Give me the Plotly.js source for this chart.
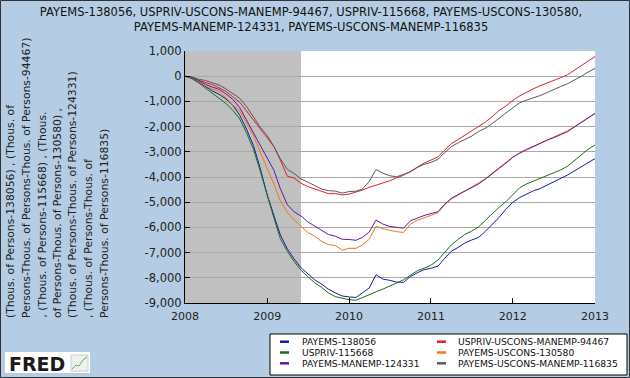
<!DOCTYPE html>
<html>
<head>
<meta charset="utf-8">
<script src="https://cdn.plot.ly/plotly-3.0.1.min.js"></script>
<style>html,body{margin:0;padding:0;background:#b4cde4;}#chart{width:630px;height:378px;}</style>
</head>
<body>
<div id="chart"></div>
<script>
// ---- data ----
const months = [
 '2008-01','2008-02','2008-03','2008-04','2008-05','2008-06','2008-07','2008-08','2008-09','2008-10','2008-11','2008-12',
 '2009-01','2009-02','2009-03','2009-04','2009-05','2009-06','2009-07','2009-08','2009-09','2009-10','2009-11','2009-12',
 '2010-01','2010-02','2010-03','2010-04','2010-05','2010-06','2010-07','2010-08','2010-09','2010-10','2010-11','2010-12',
 '2011-01','2011-02','2011-03','2011-04','2011-05','2011-06','2011-07','2011-08','2011-09','2011-10','2011-11','2011-12',
 '2012-01','2012-02','2012-03','2012-04','2012-05','2012-06','2012-07','2012-08','2012-09','2012-10','2012-11','2012-12',
 '2013-01'];

const payems = [0,-80,-220,-400,-580,-720,-900,-1150,-1550,-2100,-2750,-3650,
 -4700,-5550,-6300,-6850,-7250,-7600,-7850,-8080,-8250,-8450,-8600,-8720,
 -8760,-8780,-8600,-8400,-7880,-8050,-8100,-8170,-8180,-7950,-7800,-7680,
 -7620,-7540,-7250,-6950,-6800,-6620,-6500,-6400,-6150,-5880,-5600,-5280,
 -5000,-4810,-4680,-4550,-4460,-4330,-4200,-4070,-3920,-3760,-3600,-3420,
 -3270];
const uspriv_excons_exman = [0,-40,-160,-250,-330,-460,-600,-820,-1030,-1380,-1730,-2060,
 -2420,-2800,-3330,-3970,-4040,-4250,-4380,-4480,-4560,-4660,-4660,-4710,
 -4680,-4610,-4520,-4410,-4330,-4230,-4150,-4030,-3930,-3780,-3620,-3450,
 -3330,-3200,-2950,-2680,-2520,-2350,-2180,-2000,-1820,-1600,-1360,-1180,
 -960,-780,-640,-500,-380,-280,-180,-60,60,240,440,620,
 780];
const uspriv = [0,-100,-260,-470,-650,-850,-1080,-1350,-1700,-2250,-2900,-3750,
 -4750,-5650,-6450,-6950,-7350,-7700,-7950,-8200,-8380,-8600,-8750,-8820,
 -8870,-8890,-8780,-8650,-8560,-8450,-8330,-8220,-8080,-7900,-7720,-7620,
 -7500,-7300,-7000,-6700,-6480,-6280,-6150,-5980,-5720,-5450,-5200,-4980,
 -4700,-4420,-4280,-4170,-4060,-3960,-3850,-3720,-3570,-3350,-3120,-2900,
 -2730];
const payems_excons = [0,-50,-200,-380,-500,-600,-850,-1150,-1380,-1850,-2350,-3010,
 -3650,-4300,-4950,-5400,-5700,-5950,-6200,-6350,-6560,-6680,-6720,-6900,
 -6830,-6830,-6700,-6470,-5950,-6050,-6110,-6170,-6200,-5870,-5720,-5620,
 -5520,-5420,-5120,-4880,-4720,-4560,-4420,-4250,-4070,-3850,-3620,-3420,
 -3200,-3060,-2930,-2790,-2660,-2530,-2410,-2290,-2170,-2000,-1810,-1630,
 -1470];
const payems_exman = [0,-40,-170,-320,-430,-520,-700,-920,-1250,-1750,-2220,-2750,
 -3250,-3750,-4470,-5100,-5380,-5550,-5780,-5950,-6150,-6280,-6350,-6470,
 -6480,-6510,-6400,-6180,-5710,-5870,-5960,-6000,-6030,-5740,-5620,-5530,
 -5450,-5380,-5100,-4850,-4700,-4560,-4440,-4280,-4080,-3880,-3640,-3450,
 -3220,-3040,-2910,-2780,-2660,-2540,-2440,-2330,-2200,-2020,-1830,-1640,
 -1480];
const payems_excons_exman = [0,-30,-120,-170,-260,-350,-500,-700,-880,-1200,-1600,-2020,
 -2350,-2800,-3280,-3700,-3860,-4080,-4200,-4350,-4480,-4540,-4560,-4640,
 -4580,-4560,-4480,-4180,-3700,-3850,-3950,-3990,-3900,-3800,-3620,-3500,
 -3420,-3300,-3050,-2800,-2650,-2520,-2380,-2200,-2060,-1880,-1680,-1460,
 -1250,-1050,-950,-860,-770,-650,-520,-410,-300,-160,0,160,
 310];

const seriesNames = ['PAYEMS-138056','USPRIV-USCONS-MANEMP-94467','USPRIV-115668',
 'PAYEMS-USCONS-130580','PAYEMS-MANEMP-124331','PAYEMS-USCONS-MANEMP-116835'];
const seriesValues = [payems, uspriv_excons_exman, uspriv, payems_excons, payems_exman, payems_excons_exman];
const seriesColors = ['#1a1aa6','#e0202c','#17701a','#f07818','#6a14a8','#5a5a5a'];

const recession = ['2008-01-01','2009-06-01'];
const yTickVals = [1000,0,-1000,-2000,-3000,-4000,-5000,-6000,-7000,-8000,-9000];
const yTickText = ['1,000','0','-1,000','-2,000','-3,000','-4,000','-5,000','-6,000','-7,000','-8,000','-9,000'];
const xTickVals = ['2008-01-01','2009-01-01','2010-01-01','2011-01-01','2012-01-01','2013-01-01'];
const xTickText = ['2008','2009','2010','2011','2012','2013'];
const titleText = 'PAYEMS-138056, USPRIV-USCONS-MANEMP-94467, USPRIV-115668, PAYEMS-USCONS-130580,<br>PAYEMS-MANEMP-124331, PAYEMS-USCONS-MANEMP-116835';
const yTitleLines = [
 '(Thous. of Persons-138056) , (Thous. of',
 'Persons-Thous. of Persons-Thous. of Persons-94467)',
 ', (Thous. of Persons-115668) , (Thous.',
 'of Persons-Thous. of Persons-130580) ,',
 '(Thous. of Persons-Thous. of Persons-124331)',
 ', (Thous. of Persons-Thous. of',
 'Persons-Thous. of Persons-116835)'];

// ---- layout geometry ----
const W = 630, H = 378, L = 185, R = 35, T = 51, B = 75;
const PW = W - L - R, PH = H - T - B;
const px = v => (v - L) / PW;          // pixel x -> paper x
const py = v => (H - B - v) / PH;      // pixel y -> paper y
const FONT = 'DejaVu Sans, Verdana, sans-serif';

const traces = seriesNames.map((n, i) => ({
  type: 'scatter', mode: 'lines', name: n, x: months, y: seriesValues[i],
  line: {color: seriesColors[i], width: 1}, showlegend: false, hoverinfo: 'skip'
}));

const shapes = [
  {type: 'rect', xref: 'x', yref: 'paper', x0: recession[0], x1: recession[1], y0: 0, y1: 1,
   fillcolor: '#c0c0c0', line: {width: 0}, layer: 'between'},
  // legend box
  {type: 'rect', xref: 'paper', yref: 'paper', x0: px(270), x1: px(627), y0: py(334), y1: py(375),
   fillcolor: '#ffffff', line: {color: '#000', width: 1}},
  // FRED logo box
  {type: 'rect', xref: 'paper', yref: 'paper', x0: px(5), x1: px(90), y0: py(352), y1: py(373),
   fillcolor: '#ffffff', line: {width: 0}},
  {type: 'rect', xref: 'paper', yref: 'paper', x0: px(71), x1: px(88), y0: py(355), y1: py(371),
   fillcolor: '#eef2ee', line: {color: '#c8d0c8', width: 1}},
  {type: 'path', xref: 'paper', yref: 'paper',
   path: 'M' + px(72) + ',' + py(369) + ' L' + px(76) + ',' + py(365) + ' L' + px(79) + ',' + py(366) + ' L' + px(83) + ',' + py(360) + ' L' + px(87) + ',' + py(357),
   line: {color: '#6aa66a', width: 1}},
  // outer border
  {type: 'rect', xref: 'paper', yref: 'paper', x0: px(0.5), x1: px(629.5), y0: py(377.5), y1: py(0.5),
   line: {color: '#333', width: 1}}
];

const annotations = [];
// custom legend (two columns)
const colX = [[280, 300], [437, 456]];
const rowY = [341.7, 352.5, 363.3];
seriesNames.forEach((n, i) => {
  const c = colX[i % 2], r = rowY[Math.floor(i / 2)];
  shapes.push({type: 'line', xref: 'paper', yref: 'paper', x0: px(c[0]), x1: px(c[0] + 9), y0: py(r), y1: py(r),
    line: {color: seriesColors[i], width: 2.5}});
  annotations.push({xref: 'paper', yref: 'paper', x: px(c[1]), y: py(r), xanchor: 'left', yanchor: 'middle',
    text: n, showarrow: false, font: {family: FONT, size: 9.2, color: '#111'}});
});
// rotated y-axis title lines
const titleX = [10.5, 26, 41.5, 57, 72.5, 88.5, 104.5];
yTitleLines.forEach((t, i) => {
  annotations.push({xref: 'paper', yref: 'paper', x: px(titleX[i]), y: py(320), xanchor: 'center', yanchor: 'bottom',
    text: t, textangle: -90, showarrow: false, font: {family: FONT, size: 10.8, color: '#222'}});
});
// FRED logo text
annotations.push({xref: 'paper', yref: 'paper', x: px(7), y: py(363.5), xanchor: 'left', yanchor: 'middle',
  text: '<b>FRED</b>', showarrow: false, font: {family: FONT, size: 19, color: '#1a1a1a'}});

const layout = {
  width: W, height: H,
  margin: {l: L, r: R, t: T, b: B, pad: 0},
  paper_bgcolor: '#b4cde4', plot_bgcolor: '#ffffff',
  font: {family: FONT, color: '#222'},
  title: {text: titleText, x: 311 / W, xref: 'container', xanchor: 'center',
          y: 1 - 16 / H, yref: 'container', yanchor: 'top', font: {family: FONT, size: 11.5, color: '#111'}},
  xaxis: {type: 'date', range: ['2008-01-01', '2013-01-01'], tickvals: xTickVals, ticktext: xTickText,
          ticks: 'inside', ticklen: 5, tickcolor: '#000', showgrid: false, showline: true, linecolor: '#000', linewidth: 1,
          ticklabelstandoff: 3,
          tickfont: {family: FONT, size: 11, color: '#222'}, zeroline: false, fixedrange: true},
  yaxis: {range: [-9000, 1000], tickvals: yTickVals, ticktext: yTickText,
          ticks: 'inside', ticklen: 5, tickcolor: '#000', showgrid: true, gridcolor: '#a8a8a8', gridwidth: 1,
          showline: true, linecolor: '#000', linewidth: 1, zeroline: false,
          tickfont: {family: FONT, size: 11.5, color: '#222'}, fixedrange: true},
  showlegend: false,
  shapes: shapes,
  annotations: annotations
};

Plotly.newPlot('chart', traces, layout, {displayModeBar: false, staticPlot: true});
</script>
</body>
</html>
